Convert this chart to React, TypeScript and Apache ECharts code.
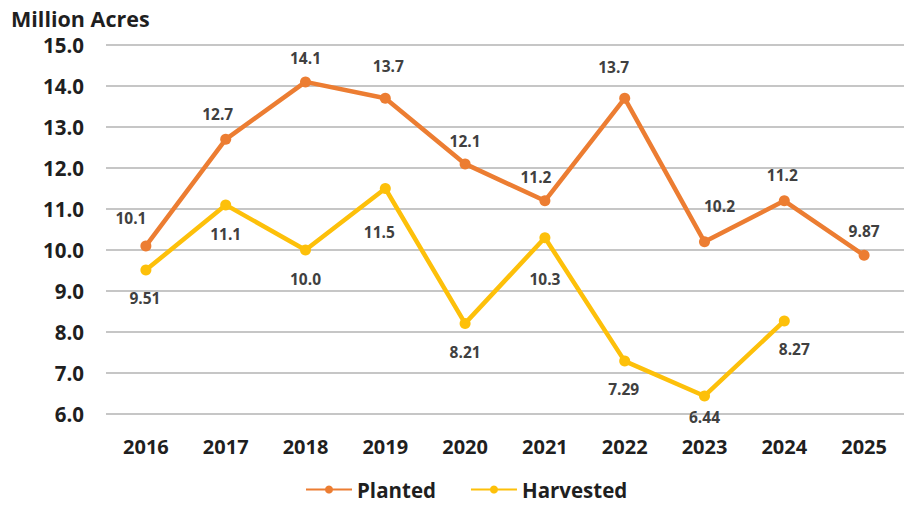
import React, { useEffect, useRef } from "react";
import * as echarts from "echarts";

const years = ["2016", "2017", "2018", "2019", "2020", "2021", "2022", "2023", "2024", "2025"];
const planted = [10.1, 12.7, 14.1, 13.7, 12.1, 11.2, 13.7, 10.2, 11.2, 9.87];
const harvested: (number | null)[] = [9.51, 11.1, 10.0, 11.5, 8.21, 10.3, 7.29, 6.44, 8.27, null];
const plantedLabels = ["10.1", "12.7", "14.1", "13.7", "12.1", "11.2", "13.7", "10.2", "11.2", "9.87"];
const harvestedLabels = ["9.51", "11.1", "10.0", "11.5", "8.21", "10.3", "7.29", "6.44", "8.27", ""];

// label centre offsets from their point (styling only)
const plantedLabelOffsets = [
  [-15, -28], [-8, -25], [0, -24], [3, -32], [0, -23], [-9, -24], [-11, -31], [15, -36], [-2, -26], [0, -24],
];
const harvestedLabelOffsets = [
  [-1, 28], [0, 29], [0, 29], [-6, 43], [0, 29], [0, 41], [-1, 28], [0, 21], [10, 28], [0, 0],
];

const FONT = "'Open Sans', Lato, sans-serif";
const SYM = 11;

function buildData(values: (number | null)[], labels: string[], offsets: number[][]) {
  return values.map((v, i) => ({
    value: v,
    label: {
      show: labels[i] !== "",
      formatter: labels[i],
      position: [SYM / 2 + offsets[i][0], SYM / 2 + offsets[i][1]],
      align: "center",
      verticalAlign: "middle",
    },
  }));
}

export default function App() {
  const ref = useRef<HTMLDivElement>(null);
  useEffect(() => {
    if (!ref.current) return;
    const chart = echarts.init(ref.current, null, { renderer: "svg" });
    const labelStyle = {
      show: true,
      fontFamily: FONT,
      fontSize: 15.5,
      fontWeight: "bold",
      color: "#404040",
    };
    chart.setOption({
      animation: false,
      textStyle: { fontFamily: FONT },
      title: {
        text: "Million Acres",
        left: 6,
        top: 2,
        textStyle: { fontFamily: FONT, fontSize: 21.5, fontWeight: "bold", color: "#1f1f1f" },
      },
      legend: {
        bottom: 1,
        left: 300,
        itemWidth: 46,
        itemHeight: 10,
        itemGap: 34,
        textStyle: { fontFamily: FONT, fontSize: 20.5, fontWeight: "bold", color: "#1f1f1f" },
        data: ["Planted", "Harvested"],
      },
      grid: { left: 106, top: 45, bottom: 92, width: 810, containLabel: false },
      xAxis: {
        type: "category",
        data: years,
        boundaryGap: true,
        axisLine: { show: false },
        axisTick: { show: false },
        axisLabel: { fontFamily: FONT, fontSize: 20, fontWeight: "bold", color: "#1f1f1f", margin: 22 },
      },
      yAxis: {
        type: "value",
        min: 6,
        max: 15,
        interval: 1,
        axisLine: { show: false },
        axisTick: { show: false },
        splitLine: { lineStyle: { color: "#C6C6C6", width: 2 } },
        axisLabel: {
          fontFamily: FONT,
          fontSize: 20.5,
          fontWeight: "bold",
          color: "#1f1f1f",
          margin: 22,
          formatter: (v: number) => v.toFixed(1),
        },
      },
      series: [
        {
          name: "Planted",
          type: "line",
          data: buildData(planted, plantedLabels, plantedLabelOffsets),
          color: "#EC7D32",
          lineStyle: { width: 4.5, color: "#EC7D32" },
          symbol: "circle",
          symbolSize: SYM,
          itemStyle: { color: "#EC7D32" },
          label: labelStyle,
        },
        {
          name: "Harvested",
          type: "line",
          data: buildData(harvested, harvestedLabels, harvestedLabelOffsets),
          color: "#FDC00A",
          lineStyle: { width: 4.5, color: "#FDC00A" },
          symbol: "circle",
          symbolSize: SYM,
          itemStyle: { color: "#FDC00A" },
          label: labelStyle,
        },
      ],
    });
    return () => chart.dispose();
  }, []);
  return <div ref={ref} style={{ width: 904, height: 506, position: "absolute", left: 0, top: 0 }} />;
}
